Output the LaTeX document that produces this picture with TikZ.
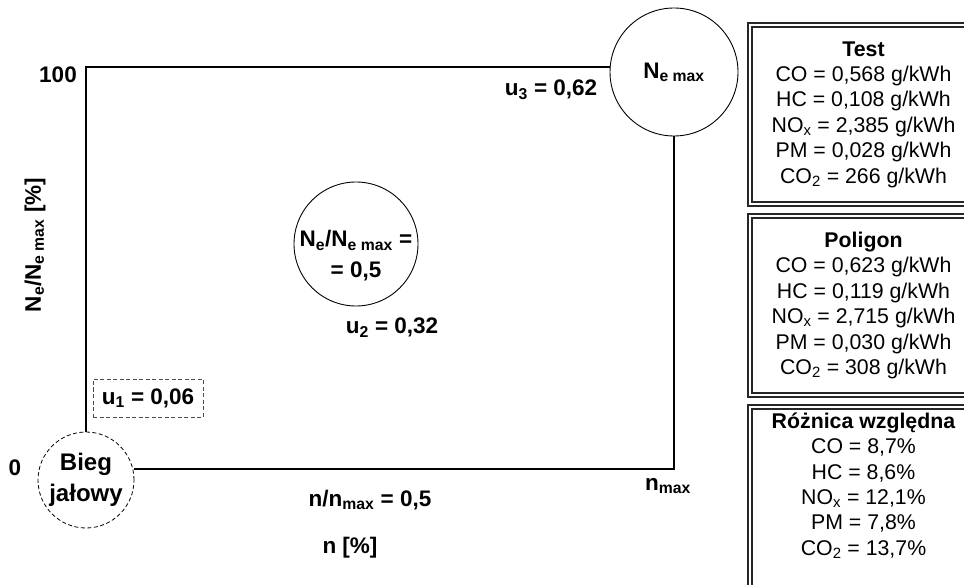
\documentclass[tikz,border=0pt]{standalone}
\usepackage{fontspec}
\setmainfont{Liberation Sans}
\usetikzlibrary{positioning}

\newcommand{\lo}[1]{\textsubscript{#1}}
\newcommand{\lblfont}{\bfseries\fontsize{22.5}{31}\selectfont}
\newcommand{\boxfont}{\fontsize{21.3}{25.4}\selectfont}

\begin{document}
\begin{tikzpicture}[
    x=1pt, y=-1pt,
    frame/.style={draw, line width=1.3pt},
    ring/.style={circle, draw, line width=0.9pt, inner sep=0pt, align=center, font=\lblfont},
    ringdash/.style={ring, line width=0.8pt, dash pattern=on 4pt off 2.5pt},
    lbl/.style={font=\lblfont, align=center},
    ubox/.style={draw=black!70, line width=0.8pt, dash pattern=on 4pt off 2.5pt, font=\lblfont, minimum width=110pt, minimum height=38pt},
    panel/.style={rectangle, draw=black!85, double, double distance=2.8pt, line width=1.4pt, minimum width=227pt, minimum height=179pt, outer sep=0pt, align=center, font=\boxfont}
]
\useasboundingbox (0,0) rectangle (964,585);
\clip (0,0) rectangle (964,585);

% Frame corners
\coordinate (tl) at (86,67);
\coordinate (br) at (674,469);

% Operating points
\node[ringdash, minimum size=96pt, font=\bfseries\fontsize{24}{31}\selectfont] (idle) at (86,480) {Bieg\\jałowy};
\node[ring, minimum size=128pt] (nemax) at (674,72) {N\lo{e max}};
\node[ring, minimum size=124pt, label={[lbl, yshift=-12pt]center:{N\lo{e}/N\lo{e max} =\\= 0,5}}] (half) at (356,244) {};

% Frame
\draw[frame] (idle) -- (tl) -- (tl -| nemax.west);
\draw[frame] (nemax) -- (br) -- (br -| idle.east);

% Weights
\node[ubox] (u1) at (148,398) {u\lo{1} = 0,06};
\node[lbl] (u2) at (392,328) {u\lo{2} = 0,32};
\node[lbl] (u3) at (551,90) {u\lo{3} = 0,62};

% Axes
\node[lbl] (y100) at (58,75) {100};
\node[lbl] (y0) at (15,468) {0};
\node[lbl, rotate=90] (ylab) at (35,245) {N\lo{e}/N\lo{e max} [\%]};
\node[lbl] (xhalf) at (370,500) {n/n\lo{max} = 0,5};
\node[lbl] (xmax) at (668,486) {n\lo{max}};
\node[lbl] (xlab) at (350,548) {n [\%]};

% Results
\node[panel, anchor=north west] (test) at (750,25) {\textbf{Test}\\CO = 0,568 g/kWh\\HC = 0,108 g/kWh\\NO\lo{x} = 2,385 g/kWh\\PM = 0,028 g/kWh\\CO\lo{2} = 266 g/kWh};
\node[panel, below=12pt of test] (poly) {\textbf{Poligon}\\CO = 0,623 g/kWh\\HC = 0,119 g/kWh\\NO\lo{x} = 2,715 g/kWh\\PM = 0,030 g/kWh\\CO\lo{2} = 308 g/kWh};
\node[panel, below=12pt of poly, minimum height=200pt] (diff) {\textbf{Różnica względna}\\CO = 8,7\%\\HC = 8,6\%\\NO\lo{x} = 12,1\%\\PM = 7,8\%\\CO\lo{2} = 13,7\%\rule[-46pt]{0pt}{46pt}};

\end{tikzpicture}
\end{document}
